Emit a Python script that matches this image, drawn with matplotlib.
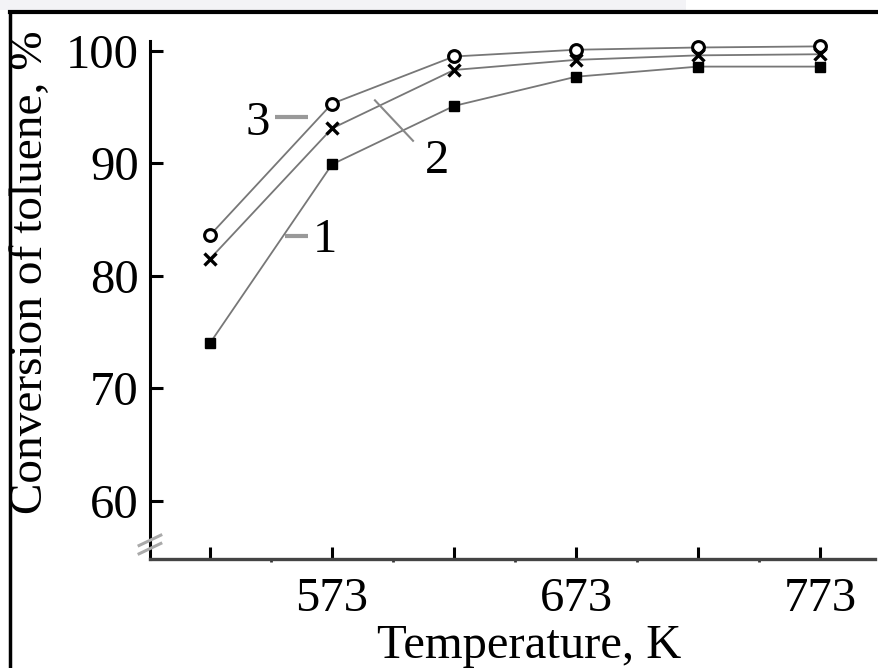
import matplotlib
matplotlib.use("Agg")
import matplotlib.pyplot as plt
from matplotlib.lines import Line2D
from matplotlib.patches import Rectangle

# ─── DATOS ──────────────────────────────────────────────────────────────────
temperatura = [523, 573, 623, 673, 723, 773]
conv_1 = [74.0, 89.9, 95.1, 97.7, 98.6, 98.6]     # curva 1 (cuadrados)
conv_2 = [81.5, 93.1, 98.3, 99.2, 99.6, 99.7]     # curva 2 (x)
conv_3 = [83.6, 95.3, 99.5, 100.1, 100.3, 100.4]  # curva 3 (o)

x_ticks = [523, 573, 623, 673, 723, 773]
x_ticklabels = ["", "573", "", "673", "", "773"]
x_minor = [548, 598, 648, 698, 748]
y_ticks = [60, 70, 80, 90, 100]

plt.rcParams["font.family"] = ["Liberation Serif", "DejaVu Serif"]

fig = plt.figure(figsize=(8.79, 6.68), dpi=100)
ax = fig.add_axes([0.1706, 0.1632, 0.8248, 0.7758])

color_linea = "#777777"
ax.plot(temperatura, conv_3, color=color_linea, lw=1.3, zorder=2)
ax.plot(temperatura, conv_2, color=color_linea, lw=1.3, zorder=2)
ax.plot(temperatura, conv_1, color=color_linea, lw=1.3, zorder=2)

ax.plot(temperatura, conv_3, ls="none", marker="o", ms=8.5, mfc="white",
        mec="black", mew=2.2, zorder=4, clip_on=False)
ax.plot(temperatura, conv_2, ls="none", marker="x", ms=8, mec="black",
        mew=2.4, zorder=4, clip_on=False)
ax.plot(temperatura, conv_1, ls="none", marker="s", ms=7.5, mfc="black",
        mec="black", zorder=4, clip_on=False)

# etiquetas de curvas con lineas guia
fs = 35
ax.text(542.7, 93.6, "3", fontsize=fs, ha="center", va="center")
ax.plot([549.6, 563.2], [94.1, 94.1], color="#999999", lw=3, solid_capstyle="butt")
ax.text(570.1, 83.2, "1", fontsize=fs, ha="center", va="center")
ax.plot([553.7, 563.2], [83.5, 83.5], color="#999999", lw=3, solid_capstyle="butt")
ax.text(616.0, 90.2, "2", fontsize=fs, ha="center", va="center")
ax.plot([590.6, 606.2], [95.6, 92.0], color="#888888", lw=1.5)

ax.set_xlim(498.4, 795.5)
ax.set_ylim(54.8, 100.9)

ax.set_xticks(x_ticks)
ax.set_xticklabels(x_ticklabels)
ax.set_xticks(x_minor, minor=True)
ax.set_yticks(y_ticks)
ax.set_yticklabels([str(v) for v in y_ticks])

ax.tick_params(axis="both", which="major", direction="in", length=9,
               width=2.2, labelsize=fs, color="black")
ax.tick_params(axis="x", which="major", pad=13)
ax.tick_params(axis="y", which="major", pad=8)
ax.tick_params(axis="x", which="minor", direction="out", length=2, width=2,
               color="#333333")

for s in ["top", "right"]:
    ax.spines[s].set_visible(False)
ax.spines["left"].set_linewidth(2.2)
ax.spines["left"].set_color("black")
ax.spines["bottom"].set_linewidth(2.4)
ax.spines["bottom"].set_color("#444444")

# marca de corte del eje y
for dy in (0.022, 0.038):
    ax.plot([-0.015, 0.015], [dy - 0.012, dy + 0.008], transform=ax.transAxes,
            color="#aaaaaa", lw=2.2, clip_on=False, zorder=5)

ax.set_ylabel("Conversion of toluene, %", fontsize=34)
ax.yaxis.set_label_coords(-0.135, 0.554)
ax.set_xlabel("Temperature, K", fontsize=fs)
ax.xaxis.set_label_coords(0.523, -0.125)

# marco de la figura (izquierda y arriba)
fig.add_artist(Rectangle((0, 1 - 10 / 668), 0.78, 10 / 668, transform=fig.transFigure,
                         color="#f3f3f6", lw=0, zorder=0))
fig.add_artist(Line2D([10 / 879, 1.0], [1 - 12 / 668, 1 - 12 / 668],
                      color="black", lw=3, transform=fig.transFigure))
fig.add_artist(Line2D([10 / 879, 10 / 879], [0, 1 - 12 / 668],
                      color="black", lw=2.5, transform=fig.transFigure))

fig.savefig("out.png", dpi=100)
